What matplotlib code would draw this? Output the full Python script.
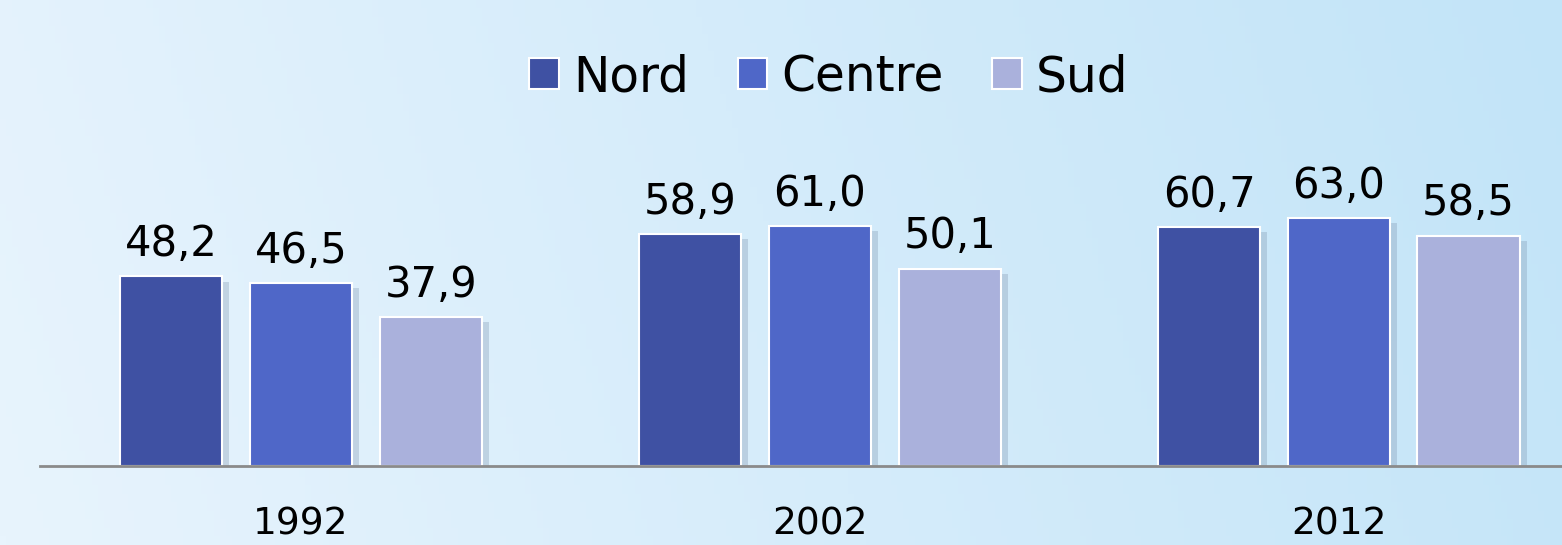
import matplotlib
matplotlib.use('Agg')
import matplotlib.pyplot as plt
import matplotlib.patheffects as pe
import numpy as np
from matplotlib.patches import Patch

# data
years = ['1992', '2002', '2012']
series = ['Nord', 'Centre', 'Sud']
nord = [48.2, 58.9, 60.7]
centre = [46.5, 61.0, 63.0]
sud = [37.9, 50.1, 58.5]
colors = ['#3f51a3', '#4f67c8', '#aab1dc']

plt.rcParams['font.family'] = ['DejaVu Sans']

W, H = 1562, 545
fig = plt.figure(figsize=(W / 100, H / 100), dpi=100)

# background gradient
bg = fig.add_axes([0, 0, 1, 1], zorder=-10)
gx = np.linspace(0, 1, 256)
gy = np.linspace(0, 1, 64)
GX, GY = np.meshgrid(gx, gy)
left = np.array([232, 244, 253]) / 255
right = np.array([194, 228, 248]) / 255
t = np.clip(GX * 0.9 + (1 - GY) * 0.1, 0, 1)[..., None]
img = left * (1 - t) + right * t
bg.imshow(img, aspect='auto', extent=[0, 1, 0, 1], origin='upper')
bg.axis('off')

ax = fig.add_axes([40 / W, 79 / H, 1522 / W, 466 / H])
ax.set_facecolor('none')
x = np.arange(len(years))
width = 0.197
step = 0.25
shadow = [pe.SimplePatchShadow(offset=(5, -4), shadow_rgbFace='#7a8fa9', alpha=0.3), pe.Normal()]
for i, (vals, name) in enumerate(zip([nord, centre, sud], series)):
    bars = ax.bar(x + (i - 1) * step, vals, width, color=colors[i],
                  edgecolor='white', linewidth=1.5, label=name)
    for b in bars:
        b.set_path_effects(shadow)
    ax.bar_label(bars, labels=[f'{v:.1f}'.replace('.', ',') for v in vals],
                 padding=8, fontsize=30)

ax.set_xlim(-0.503, 2.43)
ax.set_ylim(0, 466 / 3.94)
for s in ['top', 'right', 'left']:
    ax.spines[s].set_visible(False)
ax.spines['bottom'].set_color('#8a8a8a')
ax.spines['bottom'].set_linewidth(2)
ax.set_yticks([])
ax.set_xticks(x)
ax.set_xticklabels(years, fontsize=27)
ax.tick_params(axis='x', length=0, pad=29)

handles = [Patch(facecolor=c, edgecolor='white', linewidth=1.5) for c in colors]
fig.legend(handles, series, loc='center', bbox_to_anchor=(829 / W, 1 - 77 / H),
           ncol=3, frameon=False, fontsize=35, handlelength=0.6, handleheight=0.6,
           handletextpad=0.3, columnspacing=1.0)

fig.savefig('out.png', dpi=100)
